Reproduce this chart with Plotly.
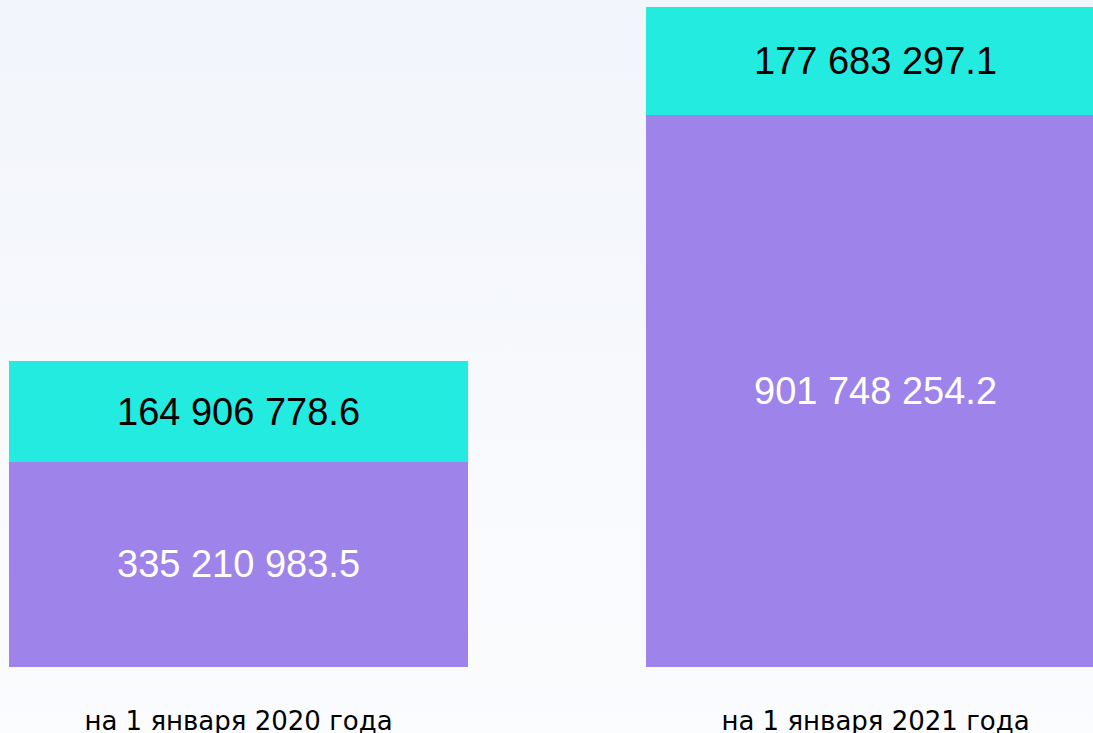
import plotly.graph_objects as go

categories = ["на 1 января 2020 года", "на 1 января 2021 года"]
purple_values = [335210983.5, 901748254.2]
cyan_values = [164906778.6, 177683297.1]
purple_labels = ["335 210 983.5", "901 748 254.2"]
cyan_labels = ["164 906 778.6", "177 683 297.1"]

PURPLE = "#9d83ea"
CYAN = "#24ebe0"

fig = go.Figure()
fig.add_trace(go.Bar(
    x=[0, 1], y=purple_values, marker=dict(color=PURPLE, line=dict(width=0)),
    text=purple_labels, textposition="inside", insidetextanchor="middle",
    textfont=dict(family="Liberation Sans, Arial", size=38, color="white"),
    width=0.7206, hoverinfo="skip", textangle=0,
))
fig.add_trace(go.Bar(
    x=[0, 1], y=cyan_values, marker=dict(color=CYAN, line=dict(width=0)),
    text=cyan_labels, textposition="inside", insidetextanchor="middle",
    textfont=dict(family="Liberation Sans, Arial", size=38, color="black"),
    width=0.7206, hoverinfo="skip", textangle=0,
))

bg_svg = ("data:image/svg+xml;utf8,<svg xmlns='http://www.w3.org/2000/svg' width='10' height='100' preserveAspectRatio='none'>"
          "<defs><linearGradient id='g' x1='0' y1='0' x2='0' y2='1'>"
          "<stop offset='0' stop-color='%23f2f5fb'/><stop offset='1' stop-color='%23fbfcfe'/></linearGradient></defs>"
          "<rect width='10' height='100' fill='url(%23g)'/></svg>")

fig.update_layout(
    width=1093, height=733,
    template="none",
    paper_bgcolor="#f7f9fc", plot_bgcolor="rgba(0,0,0,0)",
    margin=dict(l=0, r=0, t=0, b=66, autoexpand=False),
    barmode="stack", bargap=0, showlegend=False,
    uniformtext=dict(mode=False),
    images=[dict(source=bg_svg, xref="paper", yref="paper", x=0, y=1.0,
                 sizex=1, sizey=1.1, sizing="stretch", xanchor="left", yanchor="top",
                 layer="below")],
    xaxis=dict(range=[-0.3744, 1.3414], tickmode="array", tickvals=[0, 1],
               ticktext=categories, showgrid=False, zeroline=False, showline=False,
               ticks="", automargin=False, ticklabelstandoff=36,
               tickfont=dict(family="DejaVu Sans", size=26, color="black")),
    yaxis=dict(range=[0, 667 * 1.635e6], visible=False, showgrid=False,
               zeroline=False, automargin=False),
)

fig.write_html("out.html", config={"displayModeBar": False, "staticPlot": True},
               post_script="document.body.style.margin='0';document.body.style.overflow='hidden';")
